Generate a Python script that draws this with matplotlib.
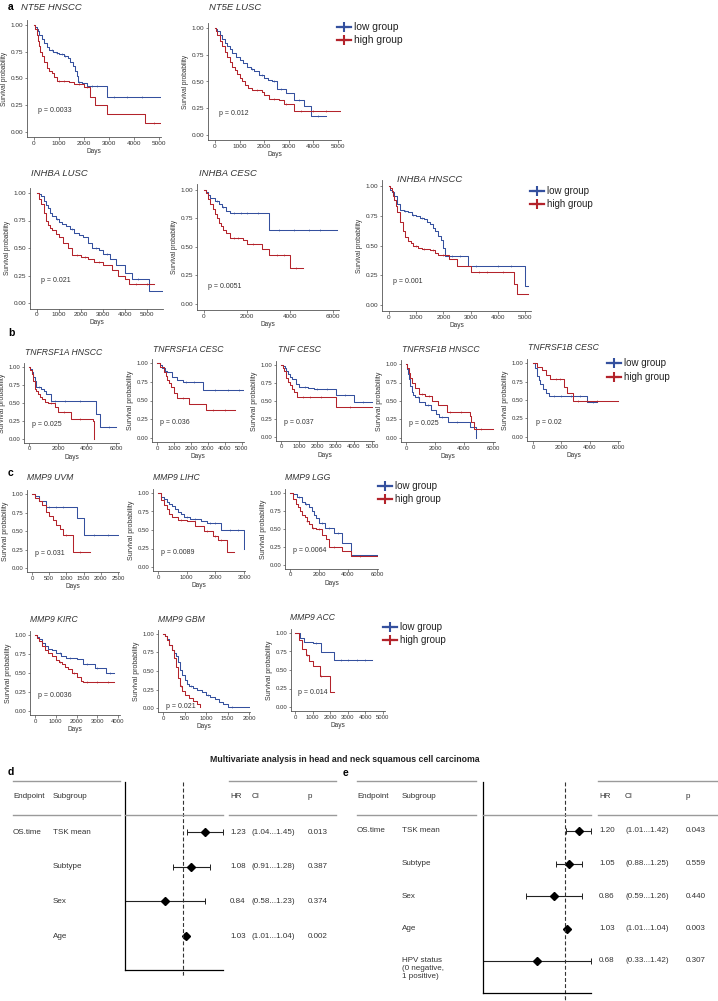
import numpy as np
import matplotlib.pyplot as plt
from matplotlib.lines import Line2D

plt.rcParams['font.family'] = ['Liberation Sans', 'DejaVu Sans']

W, H = 718, 1001
BLUE = '#34509e'
RED = '#b3232b'
GREY = '#9a9a9a'
TXT = '#333333'

# ---- Kaplan-Meier step data (time in days, survival after each step) ----
NT5E_HNSCC_LOW_T = [0, 50, 100, 150, 200, 300, 400, 500, 600, 750, 900, 1000, 1200, 1350, 1450, 1550, 1650, 1700, 1750, 1900, 2100, 2900, 5100, 5200]
NT5E_HNSCC_LOW_S = [1.0, 0.98, 0.96, 0.94, 0.91, 0.87, 0.83, 0.79, 0.77, 0.75, 0.74, 0.73, 0.71, 0.69, 0.65, 0.62, 0.57, 0.52, 0.47, 0.46, 0.43, 0.33, 0.16, 0.16]
NT5E_HNSCC_LOW_C = [700, 900, 1100, 1250, 1800, 2300, 2500, 3200, 3700, 4300]
NT5E_HNSCC_HIGH_T = [0, 50, 100, 150, 200, 250, 300, 400, 500, 600, 700, 800, 900, 1000, 1400, 1600, 2000, 2230, 2450, 2930, 4450, 5200]
NT5E_HNSCC_HIGH_S = [1.0, 0.96, 0.91, 0.85, 0.80, 0.75, 0.71, 0.65, 0.60, 0.57, 0.55, 0.51, 0.48, 0.48, 0.47, 0.45, 0.42, 0.33, 0.25, 0.17, 0.08, 0.08]
NT5E_HNSCC_HIGH_C = [1000, 1200, 1800, 2100, 4800]

NT5E_LUSC_LOW_T = [0, 50, 100, 200, 300, 400, 500, 600, 700, 850, 1000, 1150, 1300, 1450, 1600, 1800, 2000, 2150, 2300, 2500, 2900, 3200, 3600, 3900, 4500]
NT5E_LUSC_LOW_S = [1.0, 0.99, 0.97, 0.93, 0.90, 0.86, 0.83, 0.80, 0.77, 0.73, 0.70, 0.67, 0.64, 0.62, 0.60, 0.56, 0.53, 0.51, 0.50, 0.43, 0.39, 0.33, 0.27, 0.18, 0.18]
NT5E_LUSC_LOW_C = [1500, 1900, 2400, 2700, 3400, 4200]
NT5E_LUSC_HIGH_T = [0, 50, 100, 200, 300, 400, 500, 600, 700, 800, 900, 1000, 1100, 1200, 1350, 1500, 1900, 2000, 2200, 2600, 2800, 3200, 5100]
NT5E_LUSC_HIGH_S = [1.0, 0.97, 0.93, 0.88, 0.83, 0.78, 0.73, 0.68, 0.64, 0.61, 0.57, 0.53, 0.50, 0.47, 0.44, 0.42, 0.40, 0.37, 0.34, 0.33, 0.29, 0.22, 0.22]
NT5E_LUSC_HIGH_C = [1700, 2400, 2900, 3500, 4000, 4500]

INHBA_LUSC_LOW_T = [0, 100, 200, 300, 400, 500, 600, 700, 850, 1000, 1150, 1300, 1500, 1700, 1900, 2100, 2300, 2500, 2800, 3000, 3300, 3600, 4000, 4300, 5100, 5800]
INHBA_LUSC_LOW_S = [1.0, 0.99, 0.97, 0.93, 0.89, 0.86, 0.82, 0.79, 0.76, 0.74, 0.72, 0.70, 0.67, 0.64, 0.62, 0.60, 0.55, 0.50, 0.48, 0.45, 0.40, 0.35, 0.27, 0.22, 0.11, 0.11]
INHBA_LUSC_LOW_C = [900, 1600, 2700, 3200, 4600]
INHBA_LUSC_HIGH_T = [0, 100, 200, 300, 400, 500, 600, 700, 850, 1000, 1200, 1400, 1600, 2000, 2300, 2600, 3000, 3400, 3700, 4000, 4200, 5300]
INHBA_LUSC_HIGH_S = [1.0, 0.95, 0.90, 0.82, 0.75, 0.71, 0.68, 0.66, 0.63, 0.60, 0.55, 0.50, 0.44, 0.42, 0.40, 0.37, 0.35, 0.30, 0.25, 0.22, 0.17, 0.17]
INHBA_LUSC_HIGH_C = [1800, 2200, 2800, 4500, 5000]

INHBA_CESC_LOW_T = [0, 100, 200, 300, 500, 700, 850, 1000, 1200, 3000, 6200]
INHBA_CESC_LOW_S = [1.0, 0.98, 0.96, 0.93, 0.90, 0.88, 0.85, 0.82, 0.80, 0.65, 0.65]
INHBA_CESC_LOW_C = [600, 900, 1400, 1700, 2000, 2500, 3500, 4200, 4900, 5400]
INHBA_CESC_HIGH_T = [0, 100, 200, 300, 400, 500, 600, 700, 800, 900, 1000, 1200, 1800, 2000, 2700, 3000, 4000, 4600]
INHBA_CESC_HIGH_S = [1.0, 0.97, 0.92, 0.88, 0.83, 0.79, 0.75, 0.71, 0.68, 0.65, 0.62, 0.58, 0.56, 0.53, 0.48, 0.43, 0.32, 0.32]
INHBA_CESC_HIGH_C = [1400, 1600, 2300, 3400, 3700, 4300]

INHBA_HNSCC_LOW_T = [0, 50, 100, 200, 300, 400, 550, 700, 850, 1000, 1150, 1300, 1400, 1500, 1600, 1700, 1800, 1900, 2000, 2050, 2900, 5000, 5100]
INHBA_HNSCC_LOW_S = [1.0, 0.97, 0.95, 0.92, 0.85, 0.80, 0.79, 0.78, 0.76, 0.75, 0.73, 0.72, 0.70, 0.68, 0.65, 0.62, 0.58, 0.55, 0.48, 0.41, 0.33, 0.16, 0.16]
INHBA_HNSCC_LOW_C = [600, 900, 1200, 2300, 2600, 3200, 4000, 4500]
INHBA_HNSCC_HIGH_T = [0, 50, 100, 150, 200, 250, 300, 400, 500, 600, 700, 800, 900, 1050, 1200, 1500, 1700, 1800, 2200, 2500, 3000, 4600, 4700, 5100]
INHBA_HNSCC_HIGH_S = [1.0, 0.98, 0.96, 0.92, 0.88, 0.83, 0.78, 0.70, 0.62, 0.57, 0.54, 0.52, 0.50, 0.48, 0.47, 0.46, 0.44, 0.42, 0.39, 0.33, 0.28, 0.18, 0.09, 0.09]
INHBA_HNSCC_HIGH_C = [1000, 1300, 1600, 2000, 3300, 3600, 4200]

TNFRSF1A_HNSCC_LOW_T = [0, 100, 200, 300, 400, 500, 800, 1000, 1200, 1500, 4600, 4900, 6000]
TNFRSF1A_HNSCC_LOW_S = [1.0, 0.97, 0.93, 0.86, 0.80, 0.72, 0.70, 0.67, 0.62, 0.53, 0.35, 0.17, 0.17]
TNFRSF1A_HNSCC_LOW_C = [700, 1800, 2500, 3500, 5500]
TNFRSF1A_HNSCC_HIGH_T = [0, 100, 200, 300, 400, 500, 600, 750, 900, 1100, 1300, 1800, 2000, 2900, 4400, 4500]
TNFRSF1A_HNSCC_HIGH_S = [1.0, 0.96, 0.90, 0.80, 0.70, 0.66, 0.62, 0.58, 0.55, 0.52, 0.50, 0.45, 0.38, 0.28, 0.25, 0.0]
TNFRSF1A_HNSCC_HIGH_C = [1500, 2400, 3500]

TNFRSF1A_CESC_LOW_T = [0, 150, 300, 450, 600, 900, 1200, 1500, 2700, 5100]
TNFRSF1A_CESC_LOW_S = [1.0, 0.97, 0.93, 0.90, 0.88, 0.82, 0.78, 0.75, 0.64, 0.64]
TNFRSF1A_CESC_LOW_C = [1700, 2200, 3400, 4200, 4800]
TNFRSF1A_CESC_HIGH_T = [0, 200, 400, 500, 600, 700, 800, 1000, 1200, 1900, 2900, 4600]
TNFRSF1A_CESC_HIGH_S = [1.0, 0.95, 0.88, 0.83, 0.78, 0.73, 0.68, 0.60, 0.53, 0.46, 0.37, 0.37]
TNFRSF1A_CESC_HIGH_C = [1500, 3300, 4000]

TNF_CESC_LOW_T = [0, 100, 200, 300, 400, 500, 600, 800, 1000, 1500, 1800, 3000, 4000, 5000]
TNF_CESC_LOW_S = [1.0, 0.98, 0.96, 0.92, 0.88, 0.84, 0.80, 0.74, 0.70, 0.68, 0.66, 0.58, 0.48, 0.48]
TNF_CESC_LOW_C = [1300, 2000, 2500, 3500, 4500]
TNF_CESC_HIGH_T = [0, 100, 150, 300, 400, 500, 600, 700, 900, 3000, 5000]
TNF_CESC_HIGH_S = [1.0, 0.96, 0.92, 0.82, 0.77, 0.72, 0.67, 0.62, 0.56, 0.42, 0.42]
TNF_CESC_HIGH_C = [1200, 1600, 2200, 3800]

TNFRSF1B_HNSCC_LOW_T = [0, 50, 100, 150, 200, 300, 400, 500, 600, 900, 1300, 1700, 2100, 2300, 2900, 4400, 4800]
TNFRSF1B_HNSCC_LOW_S = [1.0, 0.97, 0.93, 0.86, 0.80, 0.70, 0.62, 0.58, 0.55, 0.48, 0.45, 0.38, 0.33, 0.28, 0.21, 0.15, 0.0]
TNFRSF1B_HNSCC_LOW_C = [800, 1500, 2500, 3500]
TNFRSF1B_HNSCC_HIGH_T = [0, 100, 200, 300, 400, 600, 900, 1300, 1800, 2200, 2800, 4400, 4500, 4700, 6000]
TNFRSF1B_HNSCC_HIGH_S = [1.0, 0.95, 0.88, 0.81, 0.75, 0.67, 0.60, 0.57, 0.50, 0.44, 0.35, 0.30, 0.22, 0.12, 0.12]
TNFRSF1B_HNSCC_HIGH_C = [1100, 1600, 3000, 3800, 5200]

TNFRSF1B_CESC_LOW_T = [0, 150, 300, 400, 500, 700, 900, 1100, 3800, 4500]
TNFRSF1B_CESC_LOW_S = [1.0, 0.93, 0.83, 0.77, 0.72, 0.65, 0.60, 0.56, 0.47, 0.47]
TNFRSF1B_CESC_LOW_C = [1500, 2000, 2700, 3300, 4200]
TNFRSF1B_CESC_HIGH_T = [0, 300, 600, 900, 1200, 2200, 2400, 2800, 6000]
TNFRSF1B_CESC_HIGH_S = [1.0, 0.95, 0.90, 0.84, 0.78, 0.68, 0.60, 0.48, 0.48]
TNFRSF1B_CESC_HIGH_C = [1600, 1900, 3200, 3800, 4500]

MMP9_UVM_LOW_T = [0, 100, 200, 400, 1300, 1500, 2500]
MMP9_UVM_LOW_S = [1.0, 0.97, 0.90, 0.82, 0.68, 0.45, 0.45]
MMP9_UVM_LOW_C = [500, 700, 900, 1800, 2200]
MMP9_UVM_HIGH_T = [0, 100, 200, 300, 400, 500, 600, 700, 800, 900, 1200, 1700]
MMP9_UVM_HIGH_S = [1.0, 0.95, 0.90, 0.85, 0.76, 0.70, 0.65, 0.58, 0.53, 0.44, 0.22, 0.22]
MMP9_UVM_HIGH_C = [1000, 1400]

MMP9_LIHC_LOW_T = [0, 100, 200, 300, 400, 500, 600, 700, 800, 900, 1100, 1500, 1700, 2200, 3000]
MMP9_LIHC_LOW_S = [1.0, 0.95, 0.92, 0.88, 0.85, 0.82, 0.78, 0.74, 0.71, 0.68, 0.65, 0.62, 0.60, 0.50, 0.25]
MMP9_LIHC_LOW_C = [1000, 1300, 1800, 2000, 2500, 2800]
MMP9_LIHC_HIGH_T = [0, 100, 200, 300, 400, 500, 700, 1000, 1300, 1600, 1900, 2100, 2400, 2650]
MMP9_LIHC_HIGH_S = [1.0, 0.90, 0.84, 0.78, 0.72, 0.68, 0.63, 0.62, 0.55, 0.48, 0.42, 0.36, 0.20, 0.20]
MMP9_LIHC_HIGH_C = [800, 1700, 2000, 2200]

MMP9_LGG_LOW_T = [0, 200, 500, 800, 1000, 1300, 1500, 1650, 1800, 2000, 2400, 3000, 3600, 4200, 6000]
MMP9_LGG_LOW_S = [1.0, 0.98, 0.95, 0.88, 0.85, 0.80, 0.75, 0.70, 0.65, 0.58, 0.52, 0.45, 0.30, 0.14, 0.14]
MMP9_LGG_LOW_C = [600, 1100, 2200, 2700, 3300]
MMP9_LGG_HIGH_T = [0, 200, 400, 550, 700, 850, 1000, 1150, 1300, 1500, 1800, 2200, 2500, 2700, 3600, 4200, 6000]
MMP9_LGG_HIGH_S = [1.0, 0.92, 0.85, 0.80, 0.75, 0.70, 0.66, 0.61, 0.57, 0.52, 0.50, 0.42, 0.36, 0.25, 0.20, 0.12, 0.12]
MMP9_LGG_HIGH_C = [1200, 1600, 2000, 3000, 4800]

MMP9_KIRC_LOW_T = [0, 100, 200, 350, 500, 650, 800, 1000, 1250, 1500, 2000, 2300, 2900, 3400, 3800]
MMP9_KIRC_LOW_S = [1.0, 0.98, 0.95, 0.90, 0.85, 0.82, 0.80, 0.76, 0.73, 0.70, 0.68, 0.62, 0.57, 0.50, 0.50]
MMP9_KIRC_LOW_C = [1200, 1700, 2500, 3000, 3600]
MMP9_KIRC_HIGH_T = [0, 100, 200, 350, 500, 650, 800, 1000, 1150, 1300, 1450, 1600, 1800, 2000, 2200, 2300, 3800]
MMP9_KIRC_HIGH_S = [1.0, 0.96, 0.92, 0.86, 0.80, 0.76, 0.72, 0.67, 0.64, 0.62, 0.58, 0.55, 0.50, 0.45, 0.40, 0.38, 0.38]
MMP9_KIRC_HIGH_C = [1200, 1900, 2500, 3000, 3500]

MMP9_GBM_LOW_T = [0, 50, 100, 150, 200, 250, 300, 350, 400, 450, 500, 550, 600, 700, 800, 900, 1000, 1100, 1200, 1300, 1400, 1500, 2000]
MMP9_GBM_LOW_S = [1.0, 0.97, 0.93, 0.85, 0.78, 0.74, 0.70, 0.62, 0.52, 0.45, 0.38, 0.33, 0.30, 0.27, 0.25, 0.21, 0.18, 0.15, 0.12, 0.08, 0.05, 0.02, 0.02]
MMP9_GBM_LOW_C = [650, 1050, 1600]
MMP9_GBM_HIGH_T = [0, 50, 100, 150, 200, 250, 300, 350, 400, 450, 500, 600, 700, 800, 850, 870]
MMP9_GBM_HIGH_S = [1.0, 0.97, 0.92, 0.85, 0.78, 0.68, 0.55, 0.40, 0.30, 0.23, 0.18, 0.13, 0.10, 0.05, 0.02, 0.02]
MMP9_GBM_HIGH_C = [420]

MMP9_ACC_LOW_T = [0, 300, 500, 1000, 1500, 2200, 4400]
MMP9_ACC_LOW_S = [1.0, 0.93, 0.88, 0.86, 0.74, 0.64, 0.64]
MMP9_ACC_LOW_C = [1200, 2600, 3000, 3500, 4000]
MMP9_ACC_HIGH_T = [0, 200, 400, 600, 800, 1000, 1400, 2000, 2200]
MMP9_ACC_HIGH_S = [1.0, 0.90, 0.78, 0.70, 0.62, 0.55, 0.42, 0.20, 0.20]
MMP9_ACC_HIGH_C = [700, 1500]

# ---- multivariate Cox results ----
D_LABELS = ['TSK mean', 'Subtype', 'Sex', 'Age']
D_HR = [1.23, 1.08, 0.84, 1.03]
D_LO = [1.04, 0.91, 0.58, 1.01]
D_HI = [1.45, 1.28, 1.23, 1.04]
D_P = ['0.013', '0.387', '0.374', '0.002']

E_LABELS = ['TSK mean', 'Subtype', 'Sex', 'Age', 'HPV status\n(0 negative,\n1 positive)']
E_HR = [1.20, 1.05, 0.86, 1.03, 0.68]
E_LO = [1.01, 0.88, 0.59, 1.01, 0.33]
E_HI = [1.42, 1.25, 1.26, 1.04, 1.42]
E_P = ['0.043', '0.559', '0.440', '0.003', '0.307']

fig = plt.figure(figsize=(W / 100, H / 100), dpi=100)


def fx(x):
    return x / W


def fy(y):
    return 1 - y / H


def surv_at(t, s, c):
    idx = np.searchsorted(np.array(t), np.array(c), side='right') - 1
    return np.array(s)[idx]


def km(title, tpos, low, high, pval, x0, k, L, R, y1, y0, xticks, big=False, p_s=0.2):
    span = y0 - y1
    T = y1 - 0.05 * span
    B = y0 + 0.05 * span
    ax = fig.add_axes([fx(L), fy(B), (R - L) / W, (B - T) / H])
    for (t, s, c), col in ((low, BLUE), (high, RED)):
        ax.step(t, s, where='post', color=col, lw=0.75)
        ax.plot(c, surv_at(t, s, c), ls='none', marker='+', ms=1.6, mew=0.4, color=col)
    ax.set_xlim((L - x0) / k * 1000, (R - x0) / k * 1000)
    ax.set_ylim(-0.05, 1.05)
    ax.set_xticks(xticks)
    ax.set_yticks([0, 0.25, 0.5, 0.75, 1.0])
    ax.set_yticklabels(['0.00', '0.25', '0.50', '0.75', '1.00'])
    for sp in ('top', 'right'):
        ax.spines[sp].set_visible(False)
    for sp in ('left', 'bottom'):
        ax.spines[sp].set_color('#555555')
        ax.spines[sp].set_linewidth(0.6)
    ax.tick_params(labelsize=4.6 if big else 4.3, length=1.8, width=0.5,
                   colors='#555555', labelcolor=TXT, pad=1)
    ax.set_ylabel('Survival probability', fontsize=4.7 if big else 5.0, color=TXT, labelpad=1.5)
    ax.set_xlabel('Days', fontsize=4.7, color=TXT, labelpad=1.5)
    ax.text(0.03 * (R - L) / k * 1000, p_s, 'p = ' + pval, fontsize=5, color=TXT, va='center')
    fig.text(fx(tpos[0]), fy(tpos[1]), title, fontsize=6.8 if big else 6.2,
             style='italic', color=TXT, va='center')
    return ax


def legend_at(x, y, dy, size):
    for i, (lab, col) in enumerate((('low group', BLUE), ('high group', RED))):
        yy = fy(y + i * dy)
        fig.add_artist(Line2D([fx(x), fx(x + 14)], [yy, yy], color=col, lw=1.6))
        fig.add_artist(Line2D([fx(x + 7)], [yy], marker='+', ms=6.5, mew=1.5, color=col))
        fig.text(fx(x + 17), yy, lab, fontsize=size, color='#222222', va='center')


def panel_label(x, y, s):
    fig.text(fx(x), fy(y), s, fontsize=7.5, fontweight='bold', va='center')


# panel a
km('NT5E HNSCC', (21, 7), (NT5E_HNSCC_LOW_T, NT5E_HNSCC_LOW_S, NT5E_HNSCC_LOW_C),
   (NT5E_HNSCC_HIGH_T, NT5E_HNSCC_HIGH_S, NT5E_HNSCC_HIGH_C), '0.0033',
   34, 25, 27, 161, 25, 132, range(0, 5001, 1000), big=True)
km('NT5E LUSC', (209, 7), (NT5E_LUSC_LOW_T, NT5E_LUSC_LOW_S, NT5E_LUSC_LOW_C),
   (NT5E_LUSC_HIGH_T, NT5E_LUSC_HIGH_S, NT5E_LUSC_HIGH_C), '0.012',
   215, 24.6, 208, 341, 28, 135, range(0, 5001, 1000), big=True)
legend_at(337, 27, 13, 7.4)

km('INHBA LUSC', (31, 174), (INHBA_LUSC_LOW_T, INHBA_LUSC_LOW_S, INHBA_LUSC_LOW_C),
   (INHBA_LUSC_HIGH_T, INHBA_LUSC_HIGH_S, INHBA_LUSC_HIGH_C), '0.021',
   37, 22, 30, 163, 193, 303, range(0, 5001, 1000), big=True)
km('INHBA CESC', (199, 174), (INHBA_CESC_LOW_T, INHBA_CESC_LOW_S, INHBA_CESC_LOW_C),
   (INHBA_CESC_HIGH_T, INHBA_CESC_HIGH_S, INHBA_CESC_HIGH_C), '0.0051',
   204, 21.5, 197, 339, 190, 304, range(0, 6001, 2000), big=True, p_s=0.15)
km('INHBA HNSCC', (397, 179), (INHBA_HNSCC_LOW_T, INHBA_HNSCC_LOW_S, INHBA_HNSCC_LOW_C),
   (INHBA_HNSCC_HIGH_T, INHBA_HNSCC_HIGH_S, INHBA_HNSCC_HIGH_C), '0.001',
   389, 27.2, 382, 531, 186, 305, range(0, 5001, 1000), big=True)
legend_at(530, 191, 13, 7.0)

# panel b
km('TNFRSF1A HNSCC', (25, 352), (TNFRSF1A_HNSCC_LOW_T, TNFRSF1A_HNSCC_LOW_S, TNFRSF1A_HNSCC_LOW_C),
   (TNFRSF1A_HNSCC_HIGH_T, TNFRSF1A_HNSCC_HIGH_S, TNFRSF1A_HNSCC_HIGH_C), '0.025',
   29, 14.5, 24, 119, 367, 439, range(0, 6001, 2000))
km('TNFRSF1A CESC', (153, 349), (TNFRSF1A_CESC_LOW_T, TNFRSF1A_CESC_LOW_S, TNFRSF1A_CESC_LOW_C),
   (TNFRSF1A_CESC_HIGH_T, TNFRSF1A_CESC_HIGH_S, TNFRSF1A_CESC_HIGH_C), '0.036',
   157, 17, 152, 244, 363, 438, range(0, 5001, 1000))
km('TNF CESC', (278, 349), (TNF_CESC_LOW_T, TNF_CESC_LOW_S, TNF_CESC_LOW_C),
   (TNF_CESC_HIGH_T, TNF_CESC_HIGH_S, TNF_CESC_HIGH_C), '0.037',
   281, 18.2, 276, 374, 365, 437, range(0, 5001, 1000))
km('TNFRSF1B HNSCC', (402, 349), (TNFRSF1B_HNSCC_LOW_T, TNFRSF1B_HNSCC_LOW_S, TNFRSF1B_HNSCC_LOW_C),
   (TNFRSF1B_HNSCC_HIGH_T, TNFRSF1B_HNSCC_HIGH_S, TNFRSF1B_HNSCC_HIGH_C), '0.025',
   406, 14.5, 401, 495, 364, 438, range(0, 6001, 2000))
km('TNFRSF1B CESC', (528, 348), (TNFRSF1B_CESC_LOW_T, TNFRSF1B_CESC_LOW_S, TNFRSF1B_CESC_LOW_C),
   (TNFRSF1B_CESC_HIGH_T, TNFRSF1B_CESC_HIGH_S, TNFRSF1B_CESC_HIGH_C), '0.02',
   533, 14.2, 527, 620, 363, 437, range(0, 6001, 2000))
legend_at(607, 363, 14, 7.0)

# panel c
km('MMP9 UVM', (27, 477), (MMP9_UVM_LOW_T, MMP9_UVM_LOW_S, MMP9_UVM_LOW_C),
   (MMP9_UVM_HIGH_T, MMP9_UVM_HIGH_S, MMP9_UVM_HIGH_C), '0.031',
   32, 34.4, 27, 119, 494, 568, range(0, 2501, 500))
km('MMP9 LIHC', (153, 477), (MMP9_LIHC_LOW_T, MMP9_LIHC_LOW_S, MMP9_LIHC_LOW_C),
   (MMP9_LIHC_HIGH_T, MMP9_LIHC_HIGH_S, MMP9_LIHC_HIGH_C), '0.0089',
   158, 28.7, 153, 245, 493, 567, range(0, 3001, 1000))
km('MMP9 LGG', (285, 477), (MMP9_LGG_LOW_T, MMP9_LGG_LOW_S, MMP9_LGG_LOW_C),
   (MMP9_LGG_HIGH_T, MMP9_LGG_HIGH_S, MMP9_LGG_HIGH_C), '0.0064',
   290, 14.5, 285, 378, 493, 565, range(0, 6001, 2000))
legend_at(378, 486, 13, 7.0)

km('MMP9 KIRC', (30, 620), (MMP9_KIRC_LOW_T, MMP9_KIRC_LOW_S, MMP9_KIRC_LOW_C),
   (MMP9_KIRC_HIGH_T, MMP9_KIRC_HIGH_S, MMP9_KIRC_HIGH_C), '0.0036',
   35, 20.75, 30, 120, 635, 711, range(0, 4001, 1000))
km('MMP9 GBM', (158, 619), (MMP9_GBM_LOW_T, MMP9_GBM_LOW_S, MMP9_GBM_LOW_C),
   (MMP9_GBM_HIGH_T, MMP9_GBM_HIGH_S, MMP9_GBM_HIGH_C), '0.021',
   163, 43, 158, 250, 634, 708, range(0, 2001, 500), p_s=0.02)
km('MMP9 ACC', (290, 617), (MMP9_ACC_LOW_T, MMP9_ACC_LOW_S, MMP9_ACC_LOW_C),
   (MMP9_ACC_HIGH_T, MMP9_ACC_HIGH_S, MMP9_ACC_HIGH_C), '0.014',
   295, 17.6, 291, 385, 633, 707, range(0, 5001, 1000))
legend_at(383, 627, 13, 7.0)

panel_label(8, 7, 'a')
panel_label(8, 333, 'b')
panel_label(8, 473, 'c')
panel_label(8, 772, 'd')
panel_label(343, 773, 'e')

fig.text(fx(345), fy(759), 'Multivariate analysis in head and neck squamous cell carcinoma',
         fontsize=6.3, fontweight='bold', ha='center', va='center', color='#222222')


def hline(x1, x2, y):
    fig.add_artist(Line2D([fx(x1), fx(x2)], [fy(y), fy(y)], color=GREY, lw=1.0))


def forest(labels, hr, lo, hi, pv, cols, L, R, T, B, row0, step, dash_end):
    xe, xs, fl, xhr, xci, xp, tr = cols
    ax = fig.add_axes([fx(L), fy(B), (R - L) / W, (B - T) / H])
    ax.set_xscale('log')
    ax.set_xlim(min(lo), max(hi))
    ax.set_ylim((B - row0) / step, (T - row0) / step)
    rows = np.arange(len(labels))
    ax.errorbar(hr, rows, xerr=[np.array(hr) - np.array(lo), np.array(hi) - np.array(hr)],
                fmt='none', ecolor='#222222', elinewidth=0.8, capsize=2, capthick=0.7)
    ax.plot(hr, rows, ls='none', marker='D', ms=3.6, color='black')
    yb = (dash_end - row0) / step
    ax.plot([1, 1], [(T - row0) / step, yb], color='#333333', lw=0.8, ls=(0, (3.5, 2)),
            clip_on=False)
    for sp in ('top', 'right'):
        ax.spines[sp].set_visible(False)
    for sp in ('left', 'bottom'):
        ax.spines[sp].set_linewidth(0.9)
    ax.set_yticks([])
    ax.set_xticks([1])
    ax.set_xticks([], minor=True)
    ax.set_xticklabels(['1'])
    ax.tick_params(axis='x', length=0, labelsize=3, labelcolor='#aaaaaa', pad=2)

    hline(xe, fl, 781)
    hline(xhr - 1, tr, 781)
    hline(xe, fl, 815)
    hline(L, R, 815)
    hline(xhr - 1, tr, 815)
    kw = dict(fontsize=5.8, color=TXT, va='center')
    fig.text(fx(xe), fy(797), 'Endpoint', **kw)
    fig.text(fx(xs), fy(797), 'Subgroup', **kw)
    fig.text(fx(xhr), fy(797), 'HR', **kw)
    fig.text(fx(xci), fy(797), 'CI', **kw)
    fig.text(fx(xp), fy(797), 'p', **kw)
    fig.text(fx(xe), fy(row0), 'OS.time', **kw)
    for i, lab in enumerate(labels):
        y = row0 + i * step
        if '\n' in lab:
            fig.text(fx(xs), fy(y - 4.5), lab, fontsize=5.8, color=TXT, va='top', linespacing=1.25)
        else:
            fig.text(fx(xs), fy(y), lab, **kw)
        fig.text(fx(xhr), fy(y), f'{hr[i]:.2f}', **kw)
        fig.text(fx(xci), fy(y), f'({lo[i]:.2f}...{hi[i]:.2f})', **kw)
        fig.text(fx(xp), fy(y), pv[i], **kw)


forest(D_LABELS, D_HR, D_LO, D_HI, D_P, (13, 53, 120, 230, 252, 308, 336),
       125, 223, 782, 970, 832, 34.7, 975)
forest(E_LABELS, E_HR, E_LO, E_HI, E_P, (357, 402, 476, 599, 625, 686, 718),
       483, 591, 782, 993, 831, 32.5, 1001)

fig.savefig('out.png', dpi=100)
